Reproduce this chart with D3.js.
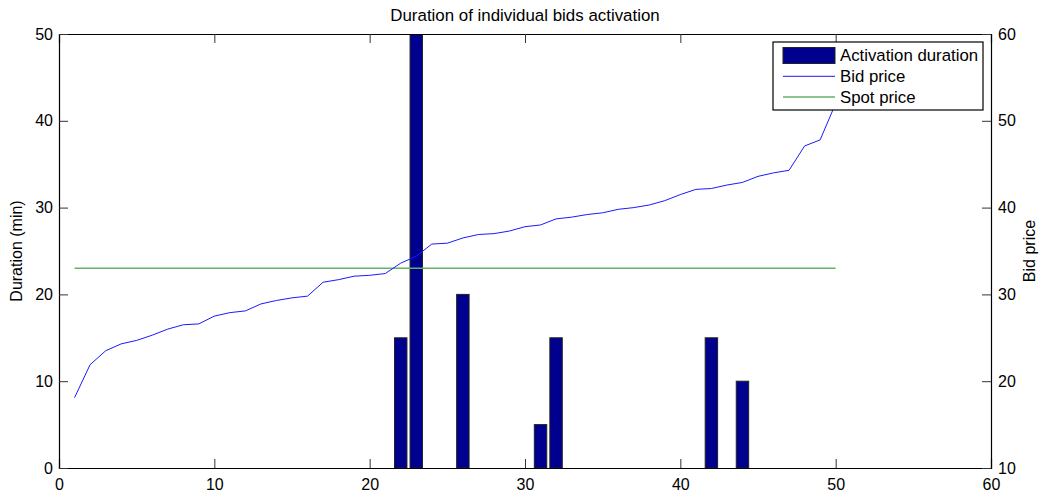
<!DOCTYPE html>
<html>
<head>
<meta charset="utf-8">
<script src="https://cdn.jsdelivr.net/npm/d3@7"></script>
<style>
  body { margin: 0; background: #fff; }
  text { font-family: "Liberation Sans", Arial, sans-serif; fill: #000; }
</style>
</head>
<body>
<svg id="chart" width="1041" height="500"></svg>
<script>
// bid index -> bid price (right axis)
const bidIndex = d3.range(1, 51)
const bidPrice = [
  18.1, 21.9, 23.5, 24.3, 24.7, 25.3, 26.0, 26.5, 26.6, 27.5,
  27.9, 28.1, 28.9, 29.3, 29.6, 29.8, 31.4, 31.7, 32.1, 32.2,
  32.4, 33.6, 34.4, 35.8, 35.9, 36.5, 36.9, 37.0, 37.3, 37.8,
  38.0, 38.7, 38.9, 39.2, 39.4, 39.8, 40.0, 40.3, 40.8, 41.5,
  42.1, 42.2, 42.6, 42.9, 43.6, 44.0, 44.3, 47.1, 47.8, 52.0
]
const spotPrice = 33

// activation duration (left axis), only bids that were activated
const barIndex = [22, 23, 26, 31, 32, 42, 44]
const barDuration = [15, 50, 20, 5, 15, 15, 10]

const xTicks = [0, 10, 20, 30, 40, 50, 60]
const leftTicks = [0, 10, 20, 30, 40, 50]
const rightTicks = [10, 20, 30, 40, 50, 60]

const margin = { left: 59, right: 50, top: 34, bottom: 32 }
const width = 1041
const height = 500
const plotW = width - margin.left - margin.right
const plotH = height - margin.top - margin.bottom

const svg = d3.select('#chart')

const x = d3.scaleLinear().domain([0, 60]).range([0, plotW])
const yL = d3.scaleLinear().domain([0, 50]).range([plotH, 0])
const yR = d3.scaleLinear().domain([10, 60]).range([plotH, 0])

const g = svg.append('g').attr('transform', `translate(${margin.left},${margin.top})`)

svg.append('defs').append('clipPath').attr('id', 'clip')
  .append('rect').attr('width', plotW).attr('height', plotH)

const plot = g.append('g').attr('clip-path', 'url(#clip)')

// bars
const bw = x(0.8) - x(0)
plot.selectAll('rect.bar')
  .data(barIndex.map((d, i) => ({ x: d, v: barDuration[i] })))
  .enter()
  .append('rect')
  .attr('class', 'bar')
  .attr('x', d => x(d.x) - bw / 2)
  .attr('y', d => yL(d.v))
  .attr('width', bw)
  .attr('height', d => yL(0) - yL(d.v))
  .attr('fill', '#00008f')
  .attr('stroke', '#222')
  .attr('stroke-width', 1)

// spot price
plot.append('line')
  .attr('x1', x(bidIndex[0])).attr('x2', x(bidIndex[bidIndex.length - 1]))
  .attr('y1', yR(spotPrice)).attr('y2', yR(spotPrice))
  .attr('stroke', '#66b266').attr('stroke-width', 1.5)

// bid price
plot.append('path')
  .datum(bidIndex.map((d, i) => [d, bidPrice[i]]))
  .attr('fill', 'none')
  .attr('stroke', '#1a1aff')
  .attr('stroke-width', 1)
  .attr('d', d3.line().x(d => x(d[0])).y(d => yR(d[1])))

// axes (MATLAB style, ticks inside)
const tickLen = 9
const axisFont = '16px'

const axBottom = g.append('g').attr('transform', `translate(0,${plotH})`)
  .call(d3.axisBottom(x).tickValues(xTicks).tickSize(-tickLen).tickPadding(11))
const axTop = g.append('g')
  .call(d3.axisTop(x).tickValues(xTicks).tickSize(-tickLen).tickFormat(''))
const axLeft = g.append('g')
  .call(d3.axisLeft(yL).tickValues(leftTicks).tickSize(-tickLen).tickPadding(6))
const axRight = g.append('g').attr('transform', `translate(${plotW},0)`)
  .call(d3.axisRight(yR).tickValues(rightTicks).tickSize(-tickLen).tickPadding(7))

;[axBottom, axTop, axLeft, axRight].forEach(a => {
  a.select('.domain').attr('stroke', '#000').attr('stroke-width', 1.2)
  a.selectAll('.tick line').attr('stroke', '#333')
  a.selectAll('.tick text').style('font-size', axisFont).attr('fill', '#000')
})

// title and axis labels
svg.append('text')
  .attr('x', margin.left + plotW / 2).attr('y', 20.5)
  .attr('text-anchor', 'middle')
  .style('font-size', '16.9px')
  .text('Duration of individual bids activation')

svg.append('text')
  .attr('transform', `translate(22,${margin.top + plotH / 2}) rotate(-90)`)
  .attr('text-anchor', 'middle')
  .style('font-size', '16px')
  .text('Duration (min)')

svg.append('text')
  .attr('transform', `translate(1035,${margin.top + plotH / 2}) rotate(-90)`)
  .attr('text-anchor', 'middle')
  .style('font-size', '16px')
  .text('Bid price')

// legend
const legend = svg.append('g').attr('transform', 'translate(773,42)')
legend.append('rect')
  .attr('width', 210).attr('height', 68)
  .attr('fill', '#fff').attr('stroke', '#000').attr('stroke-width', 1.2)

const legendItems = [
  { label: 'Activation duration', type: 'bar', color: '#00008f' },
  { label: 'Bid price', type: 'line', color: '#1a1aff' },
  { label: 'Spot price', type: 'line', color: '#66b266' }
]
legendItems.forEach((d, i) => {
  const cy = 13.5 + i * 20.8
  if (d.type === 'bar') {
    legend.append('rect')
      .attr('x', 10).attr('y', cy - 8).attr('width', 52).attr('height', 16)
      .attr('fill', d.color).attr('stroke', '#222')
  } else {
    legend.append('line')
      .attr('x1', 10).attr('x2', 62).attr('y1', cy).attr('y2', cy)
      .attr('stroke', d.color).attr('stroke-width', d.label === 'Spot price' ? 1.5 : 1)
  }
  legend.append('text')
    .attr('x', 67).attr('y', cy).attr('dy', '0.35em')
    .style('font-size', '16.8px')
    .text(d.label)
})
</script>
</body>
</html>
